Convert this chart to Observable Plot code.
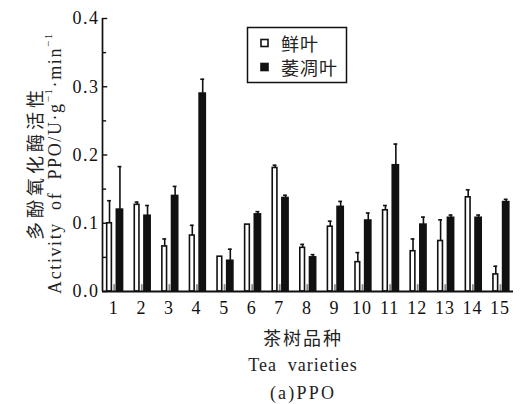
<!DOCTYPE html>
<html><head><meta charset="utf-8">
<script src="https://cdn.jsdelivr.net/npm/d3@7"></script>
<script src="https://cdn.jsdelivr.net/npm/@observablehq/plot@0.6"></script>
<style>
html,body{margin:0;padding:0;background:#fff;}
body{width:520px;height:404px;overflow:hidden;position:relative;color:#111;}
#chart svg{display:block;}
#caps{padding-top:1px;}
.cap{margin-left:86px;width:434px;text-align:center;height:28px;line-height:28px;white-space:pre;color:#222;}
.zh{font-family:"Noto Sans CJK SC",sans-serif;font-size:18px;letter-spacing:2px;}
.en{font-family:"Liberation Serif",serif;font-size:18px;letter-spacing:1px;}
.en2{font-family:"Liberation Serif",serif;font-size:18px;letter-spacing:2.2px;}
</style>
</head><body>
<div id="chart"></div>
<div id="caps">
<div class="cap zh">茶树品种</div>
<div class="cap en">Tea  varieties</div>
<div class="cap en2">(a)PPO</div>
</div>
<script>
// ---- data ----
const varieties   = [1, 2, 3, 4, 5, 6, 7, 8, 9, 10, 11, 12, 13, 14, 15];
const series      = ["鲜叶", "萎凋叶"];
const fresh       = [0.100, 0.127, 0.066, 0.082, 0.051, 0.098, 0.181, 0.064, 0.095, 0.043, 0.119, 0.059, 0.074, 0.138, 0.025];
const freshErr    = [0.033, 0.004, 0.011, 0.015, 0.000, 0.000, 0.004, 0.005, 0.008, 0.014, 0.007, 0.018, 0.031, 0.011, 0.012];
const withered    = [0.120, 0.111, 0.140, 0.290, 0.045, 0.113, 0.137, 0.050, 0.124, 0.104, 0.185, 0.098, 0.108, 0.108, 0.131];
const witheredErr = [0.063, 0.015, 0.014, 0.021, 0.017, 0.004, 0.004, 0.004, 0.008, 0.011, 0.031, 0.011, 0.004, 0.004, 0.004];
const baseMarks   = [0.01, 0.01, 0.01, 0.01, 0.01, 0.01, 0.01, 0.01, 0.01, 0.01, 0.01, 0.01, 0.01, 0.01, 0.01];
const yTicks      = [0, 0.1, 0.2, 0.3, 0.4];
const yMinorTicks = [0.05, 0.15, 0.25, 0.35];

// ---- layout / style ----
const xDomain = [0.5904, 15.487];
const barSpec = {
  "鲜叶":   {x1: -0.24, x2: -0.07, fill: "#ffffff"},
  "萎凋叶": {x1: 0.11,  x2: 0.335, fill: "#111111"}
};
const rows = [];
varieties.forEach((v, i) => {
  rows.push({v, s: series[0], value: fresh[i], err: freshErr[i]});
  rows.push({v, s: series[1], value: withered[i], err: witheredErr[i]});
});
const marks = varieties.map((v, i) => ({v, value: baseMarks[i]}));
const center = d => d.v + (barSpec[d.s].x1 + barSpec[d.s].x2) / 2;
const errRows = rows.filter(d => d.err > 0);
const serif = "'Liberation Serif', serif";

const plot = Plot.plot({
  width: 520, height: 322,
  marginLeft: 102, marginRight: 7, marginTop: 18, marginBottom: 31,
  style: {fontFamily: serif, fontSize: "17px", color: "#111", background: "#fff"},
  x: {type: "linear", domain: xDomain},
  y: {domain: [0, 0.4]},
  marks: [
    Plot.rect(marks, {x1: d => d.v + 0.0, x2: d => d.v + 0.065, y1: 0, y2: "value", fill: "#8a8a8a"}),
    Plot.rect(rows, {x1: d => d.v + barSpec[d.s].x1, x2: d => d.v + barSpec[d.s].x2, y1: 0, y2: "value",
      fill: d => barSpec[d.s].fill, stroke: "#111", strokeWidth: 1.6}),
    Plot.ruleX(errRows, {x: center, y1: "value", y2: d => d.value + d.err, stroke: "#111", strokeWidth: 1.6}),
    Plot.ruleY(errRows, {y: d => d.value + d.err, x1: d => center(d) - 0.07, x2: d => center(d) + 0.07, stroke: "#111", strokeWidth: 1.6}),
    Plot.ruleY(yTicks, {y: d => d, x1: xDomain[0], x2: xDomain[0] + 0.19, stroke: "#111", strokeWidth: 1.4}),
    Plot.ruleY(yMinorTicks, {y: d => d, x1: xDomain[0], x2: xDomain[0] + 0.15, stroke: "#111", strokeWidth: 1.4}),
    Plot.ruleX([xDomain[0]], {y1: 0, y2: 0.4, stroke: "#111", strokeWidth: 1.7}),
    Plot.ruleY([0], {x1: xDomain[0], x2: xDomain[1], stroke: "#111", strokeWidth: 2}),
    Plot.axisY(yTicks, {tickSize: 0, tickPadding: 3, tickFormat: d3.format(".1f"), label: null, fontSize: 18}),
    Plot.axisX(varieties, {tickSize: 0, tickPadding: 10, tickFormat: d => String(d), label: null, fontSize: 18})
  ]
});
document.getElementById("chart").appendChild(plot);

const svg = d3.select(plot);
svg.selectAll("g[aria-label='y-axis tick label'] text")
  .style("letter-spacing", "1.5px");
svg.selectAll("g[aria-label='x-axis tick label'] text")
  .style("letter-spacing", "1px");

// y-axis title (two lines, rotated)
svg.append("text")
  .attr("transform", "translate(34,163) rotate(-90)")
  .attr("text-anchor", "middle").attr("dominant-baseline", "central")
  .style("font-family", "'Noto Sans CJK SC', sans-serif").style("font-size", "18px")
  .style("letter-spacing", "4px").attr("fill", "#222")
  .text("多酚氧化酶活性");
const en = svg.append("text")
  .attr("transform", "translate(55,163) rotate(-90)")
  .attr("text-anchor", "middle").attr("dominant-baseline", "central")
  .style("font-family", serif).style("font-size", "18px")
  .style("letter-spacing", "1.6px").attr("fill", "#222");
en.append("tspan").text("Activity  of  PPO/U·g");
en.append("tspan").attr("dy", -7).style("font-size", "11px").text("−1");
en.append("tspan").attr("dy", 7).text("·min");
en.append("tspan").attr("dy", -7).style("font-size", "11px").text("−1");

// legend (inside plot area, top centre)
const lg = svg.append("g").attr("text-anchor", "start");
lg.append("rect").attr("x", 247.5).attr("y", 27.5).attr("width", 99).attr("height", 55)
  .attr("fill", "#fff").attr("stroke", "#111").attr("stroke-width", 1.5);
series.forEach((s, i) => {
  const cy = 43 + i * 24;
  lg.append("rect").attr("x", 261).attr("y", cy - 3.5).attr("width", 7).attr("height", 7)
    .attr("fill", barSpec[s].fill).attr("stroke", "#111").attr("stroke-width", 1.6);
  lg.append("text").attr("x", 281).attr("y", cy).attr("dominant-baseline", "central")
    .attr("text-anchor", "start")
    .style("font-family", "'Noto Sans CJK SC', sans-serif").style("font-size", "18px")
    .style("letter-spacing", "1px").attr("fill", "#222").text(s);
});
</script>
</body></html>
